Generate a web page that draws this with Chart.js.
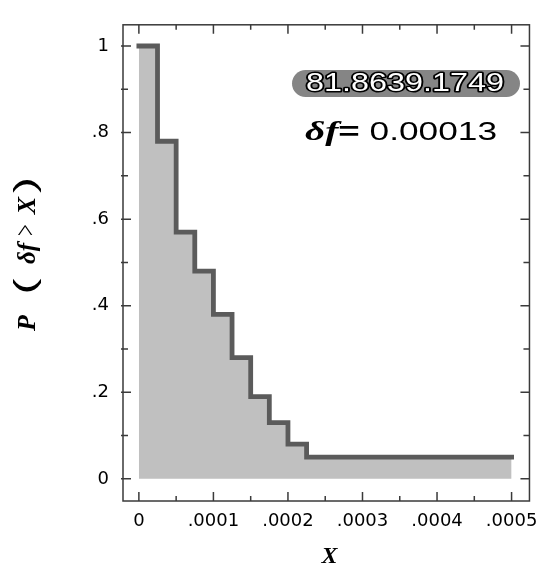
<!DOCTYPE html>
<html>
<head>
<meta charset="utf-8">
<script src="https://cdn.jsdelivr.net/npm/chart.js@4.4.1/dist/chart.umd.min.js"></script>
<style>
  html, body { margin: 0; padding: 0; background: #fff; }
  canvas { display: block; }
</style>
</head>
<body>
<canvas id="exceedChart" width="548" height="565"></canvas>
<script>
// where the curve steps down, and P(δf > X) from that point on
const stepX = [0, 0.000025, 0.00005, 0.000075, 0.0001, 0.000125, 0.00015, 0.000175, 0.0002, 0.000225, 0.0005];
const probExceed = [1, 0.78, 0.57, 0.48, 0.38, 0.28, 0.19, 0.13, 0.08, 0.05, 0.05];

// tick positions, empty label = minor tick
const xTickValues = [0, 0.00005, 0.0001, 0.00015, 0.0002, 0.00025, 0.0003, 0.00035, 0.0004, 0.00045, 0.0005];
const xTickLabels = ['0', '', '.0001', '', '.0002', '', '.0003', '', '.0004', '', '.0005'];
const yTickValues = [0, 0.1, 0.2, 0.3, 0.4, 0.5, 0.6, 0.7, 0.8, 0.9, 1];
const yTickLabels = ['0', '', '.2', '', '.4', '', '.6', '', '.8', '', '1'];

const runLabel = '81.8639.1749';
const deltaValue = '0.00013';

const SANS = '"Liberation Sans", Arial, sans-serif';
const WIDE = '"DejaVu Sans", sans-serif';
const SERIF = '"Liberation Serif", "Times New Roman", serif';

// text squeezed/stretched horizontally to a given width
function drawWideText(ctx, parts, left, baseline, width, outline) {
    let natural = 0;
    parts.forEach(p => { ctx.font = p.font; p.w = ctx.measureText(p.text).width; natural += p.w; });
    ctx.save();
    ctx.translate(left, baseline);
    ctx.scale(width / natural, 1);
    ctx.textAlign = 'left';
    ctx.textBaseline = 'alphabetic';
    let cx = 0;
    parts.forEach(p => {
        ctx.font = p.font;
        if (outline) {
            ctx.lineWidth = 3;
            ctx.lineJoin = 'round';
            ctx.strokeStyle = '#000';
            ctx.strokeText(p.text, cx, 0);
            ctx.fillStyle = '#fff';
        } else {
            ctx.fillStyle = '#000';
        }
        ctx.fillText(p.text, cx, 0);
        cx += p.w;
    });
    ctx.restore();
}

const frameAndNotes = {
    id: 'frameAndNotes',
    afterDraw(chart) {
        const { ctx, chartArea: a, scales: { x, y } } = chart;
        ctx.save();

        // box round the plot
        ctx.strokeStyle = '#3a3a3a';
        ctx.lineWidth = 1.5;
        ctx.strokeRect(a.left, a.top, a.right - a.left, a.bottom - a.top);

        // ticks point inwards on all four sides
        ctx.beginPath();
        x.ticks.forEach((t, i) => {
            const px = x.getPixelForValue(t.value);
            const len = xTickLabels[i] ? 9 : 5;
            ctx.moveTo(px, a.bottom); ctx.lineTo(px, a.bottom - len);
            ctx.moveTo(px, a.top); ctx.lineTo(px, a.top + len);
        });
        y.ticks.forEach((t, i) => {
            const py = y.getPixelForValue(t.value);
            const len = yTickLabels[i] ? 8 : 5;
            ctx.moveTo(a.left - 2, py); ctx.lineTo(a.left + len, py);
            ctx.moveTo(a.right, py); ctx.lineTo(a.right - len - 1, py);
        });
        ctx.stroke();

        // run id in a grey pill
        ctx.beginPath();
        ctx.roundRect(292, 70, 228, 27, 13.5);
        ctx.fillStyle = '#858585';
        ctx.fill();
        drawWideText(ctx, [{ text: runLabel, font: '25px ' + SANS }], 306, 91, 198, true);

        drawWideText(ctx, [
            { text: 'δf', font: 'bold italic 28px ' + SERIF },
            { text: '=', font: 'bold 26px ' + SANS },
            { text: ' ' + deltaValue, font: '25px ' + SANS }
        ], 305, 140, 192, false);

        // x axis title
        ctx.fillStyle = '#000';
        ctx.font = 'bold italic 24px ' + SERIF;
        ctx.textAlign = 'center';
        ctx.textBaseline = 'alphabetic';
        ctx.fillText('X', 329.5, 563);

        // y axis title, read bottom to top
        ctx.translate(35, 0);
        ctx.rotate(-Math.PI / 2);
        const pieces = [
            { t: 'P', f: 'bold italic 26px ' + SERIF, yc: 323, sx: 1 },
            { t: '(', f: '30px ' + SANS, yc: 286.5, sx: 1.6 },
            { t: 'δf', f: 'bold italic 25px ' + SERIF, yc: 253.5, sx: 1 },
            { t: '>', f: '30px ' + SERIF, yc: 230, sx: 0.7 },
            { t: 'X', f: 'bold italic 26px ' + SERIF, yc: 205.5, sx: 1 },
            { t: ')', f: '30px ' + SANS, yc: 185, sx: 1.6 }
        ];
        pieces.forEach(p => {
            ctx.save();
            ctx.translate(-p.yc, 0);
            ctx.scale(p.sx, 1);
            ctx.font = p.f;
            ctx.fillText(p.t, 0, 0);
            ctx.restore();
        });

        ctx.restore();
    }
};

const points = stepX.map((v, i) => ({ x: v, y: probExceed[i] }));

new Chart(document.getElementById('exceedChart'), {
    type: 'line',
    data: {
        datasets: [{
            data: points,
            stepped: true,
            borderColor: '#5b5b5b',
            borderWidth: 4.8,
            borderCapStyle: 'square',
            borderJoinStyle: 'miter',
            pointRadius: 0,
            fill: false
        }, {
            data: points,
            stepped: true,
            borderColor: 'rgba(0,0,0,0)',
            borderWidth: 0,
            pointRadius: 0,
            backgroundColor: '#c0c0c0',
            fill: 'origin'
        }]
    },
    options: {
        responsive: false,
        animation: false,
        devicePixelRatio: 1,
        layout: { padding: { top: 7, right: 15, left: 0, bottom: 0 } },
        plugins: {
            legend: { display: false },
            tooltip: { enabled: false }
        },
        scales: {
            x: {
                type: 'linear',
                min: -0.0000213,
                max: 0.000524,
                afterBuildTicks: s => { s.ticks = xTickValues.map(v => ({ value: v })); },
                afterFit: s => { s.height = 64; },
                grid: { display: false, drawTicks: false },
                border: { display: false },
                ticks: {
                    autoSkip: false,
                    maxRotation: 0,
                    padding: 10,
                    color: '#000',
                    font: { family: WIDE, size: 18 },
                    callback: (v, i) => xTickLabels[i]
                }
            },
            y: {
                type: 'linear',
                min: -0.0512,
                max: 1.049,
                afterBuildTicks: s => { s.ticks = yTickValues.map(v => ({ value: v })); },
                afterFit: s => { s.width = 123; },
                grid: { display: false, drawTicks: false },
                border: { display: false },
                ticks: {
                    autoSkip: false,
                    padding: 14,
                    color: '#000',
                    font: { family: WIDE, size: 18 },
                    callback: (v, i) => yTickLabels[i]
                }
            }
        }
    },
    plugins: [frameAndNotes]
});
</script>
</body>
</html>
